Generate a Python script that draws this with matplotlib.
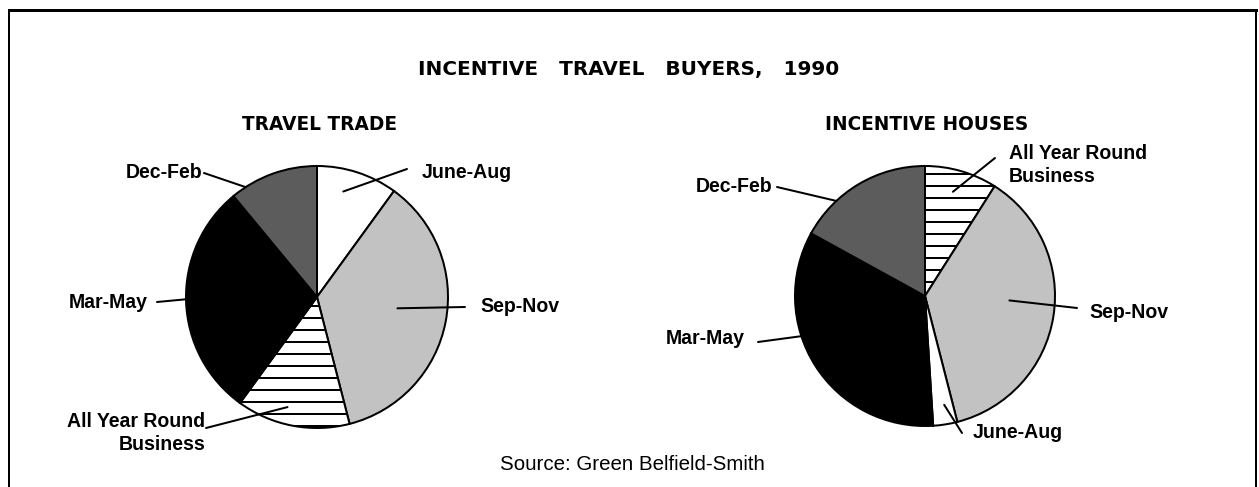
import numpy as np
import matplotlib
matplotlib.use("Agg")
import matplotlib.pyplot as plt
from matplotlib.lines import Line2D

W, H = 1259, 487
DPI = 72

# data
trade_labels = ["June-Aug", "Sep-Nov", "All Year Round\nBusiness", "Mar-May", "Dec-Feb"]
trade_values = [10, 36, 14, 29, 11]
houses_labels = ["All Year Round\nBusiness", "Sep-Nov", "June-Aug", "Mar-May", "Dec-Feb"]
houses_values = [9, 37, 3, 34, 17]

# styles per season
styles = {
    "June-Aug": dict(fc="white", hatch=None),
    "Sep-Nov": dict(fc="#c2c2c2", hatch=None),
    "All Year Round\nBusiness": dict(fc="white", hatch="-"),
    "Mar-May": dict(fc="black", hatch=None),
    "Dec-Feb": dict(fc="#5c5c5c", hatch=None),
}

plt.rcParams["hatch.linewidth"] = 2.0
plt.rcParams["font.family"] = ["Liberation Sans", "DejaVu Sans"]

fig = plt.figure(figsize=(W / DPI, H / DPI), dpi=DPI)
fig.patch.set_facecolor("white")


def make_pie(cx, cy, r, labels, values, label_layout):
    ax = fig.add_axes([(cx - r) / W, (H - cy - r) / H, 2 * r / W, 2 * r / H])
    wedges, _ = ax.pie(values, startangle=90, counterclock=False, radius=1,
                       wedgeprops=dict(edgecolor="black", linewidth=2))
    for w, lab in zip(wedges, labels):
        st = styles[lab]
        w.set_facecolor(st["fc"])
        if st["hatch"]:
            w.set_hatch(st["hatch"])
    ax.set_xlim(-1, 1)
    ax.set_ylim(-1, 1)
    ax.set_aspect("equal")
    ax.axis("off")
    for lab in labels:
        tx, ty, ha, lx, ly, ang, rr = label_layout[lab]
        fig.text(tx / W, 1 - ty / H, lab, ha=ha, va="center", ma=ha,
                 fontsize=19.5, fontweight="bold", linespacing=1.25)
        a = np.deg2rad(ang)
        ax.annotate("", xy=(rr * np.sin(a), rr * np.cos(a)),
                    xytext=(lx, H - ly), textcoords="figure pixels",
                    annotation_clip=False,
                    arrowprops=dict(arrowstyle="-", lw=2, color="black",
                                    shrinkA=0, shrinkB=0))
    return ax


# text x, text y, align, line start x, y, anchor angle (cw from top), anchor radius
trade_layout = {
    "Dec-Feb": (202, 172, "right", 204, 173, 327, 1.0),
    "June-Aug": (422, 172, "left", 407, 169, 14, 0.83),
    "Sep-Nov": (480, 307, "left", 465, 307, 98, 0.62),
    "Mar-May": (148, 302, "right", 157, 302, 269, 1.0),
    "All Year Round\nBusiness": (205, 433, "right", 206, 428, 195, 0.87),
}
houses_layout = {
    "Dec-Feb": (772, 187, "right", 777, 187, 317, 1.0),
    "Mar-May": (745, 339, "right", 758, 342, 252, 1.0),
    "All Year Round\nBusiness": (1009, 165, "left", 995, 158, 15, 0.83),
    "Sep-Nov": (1089, 312, "left", 1077, 308, 93, 0.65),
    "June-Aug": (973, 433, "left", 962, 433, 170, 0.85),
}

make_pie(317, 297, 131, trade_labels, trade_values, trade_layout)
make_pie(925, 296, 130, houses_labels, houses_values, houses_layout)

fig.text(629 / W, 1 - 70 / H, "INCENTIVE   TRAVEL   BUYERS,   1990", ha="center", va="center",
         fontsize=20, fontweight="bold", family="DejaVu Sans")
fig.text(319 / W, 1 - 124 / H, "TRAVEL TRADE", ha="center", va="center",
         fontsize=18.5, fontweight="bold", family="DejaVu Sans")
fig.text(927 / W, 1 - 124 / H, "INCENTIVE HOUSES", ha="center", va="center",
         fontsize=18.5, fontweight="bold", family="DejaVu Sans")
fig.text(632 / W, 1 - 465 / H, "Source: Green Belfield-Smith", ha="center", va="center",
         fontsize=20.5)

# frame around the chart
fig.add_artist(Line2D([9 / W, 1256 / W], [1 - 10 / H, 1 - 10 / H], color="black", lw=3))
fig.add_artist(Line2D([9 / W, 9 / W], [0, 1 - 10 / H], color="black", lw=2))
fig.add_artist(Line2D([1256 / W, 1256 / W], [0, 1 - 10 / H], color="black", lw=2))

fig.savefig("out.png", dpi=DPI)
